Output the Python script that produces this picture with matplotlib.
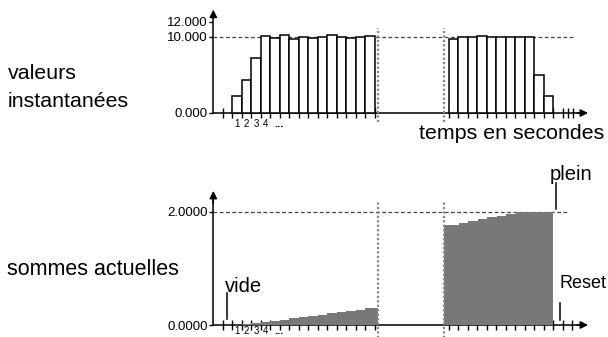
import matplotlib
matplotlib.use("Agg")
import matplotlib.pyplot as plt

plt.rcParams['font.family'] = ['Liberation Sans', 'DejaVu Sans']

# ---- data ----
seg1_edges = [0, 1, 2, 3, 4, 5, 6, 7, 8, 9, 10, 11, 12, 13, 14, 15]
seg1_values = [2.2, 4.3, 7.2, 10.1, 9.9, 10.2, 9.7, 10.0, 9.9, 10.0, 10.2, 10.0, 9.9, 10.0, 10.1]
seg2_edges = [22.8, 23.8, 24.8, 25.8, 26.8, 27.8, 28.8, 29.8, 30.8, 31.8, 32.8, 33.8]
seg2_values = [9.7, 10.0, 10.0, 10.1, 9.95, 10.05, 10.05, 9.95, 10.05, 5.0, 2.2]

sum1_edges = [0, 1, 2, 3, 4, 5, 6, 7, 8, 9, 10, 11, 12, 13, 14, 15.37]
sum1_values = [0.005, 0.014, 0.030, 0.053, 0.074, 0.097, 0.118, 0.141, 0.162,
               0.185, 0.207, 0.229, 0.251, 0.273, 0.296]
sum2_edges = [22.3, 23.85, 24.85, 25.85, 26.85, 27.85, 28.85, 29.85, 30.85, 31.85, 32.85, 33.8]
sum2_values = [1.77, 1.81, 1.84, 1.87, 1.90, 1.93, 1.96, 1.99, 2.00, 2.00, 2.00]

bar_tick_labels = ["1", "2", "3", "4", "..."]
top_yticks = [0, 10, 12]
top_yticklabels = ["0.000", "10.000", "12.000"]
bot_yticks = [0, 2]
bot_yticklabels = ["0.0000", "2.0000"]

top_xticks = [-1] + seg1_edges + seg2_edges + [34.8, 35.35, 35.9]
bot_xticks = [-1] + seg1_edges + seg2_edges + [34.8, 35.8]

W, H = 608, 337
fig = plt.figure(figsize=(W / 100, H / 100), dpi=100)

# pixel mapping: x_px = 232.3 + 9.5*x
X0, XS = 232.3, 9.5
xlim = (-3, 38)
ax_left = (X0 + xlim[0] * XS) / W
ax_w = (xlim[1] - xlim[0]) * XS / W

# top axes: y_px_from_top = 113 - 7.6*y
T0, TS = 113.0, 7.6
tylim = (-2, 14.5)
t_bottom = (H - (T0 - tylim[0] * TS)) / H
t_h = (tylim[1] - tylim[0]) * TS / H
ax1 = fig.add_axes([ax_left, t_bottom, ax_w, t_h])

# bottom axes: y_px_from_top = 325 - 56.6*v
B0, BS = 325.0, 56.6
bylim = (-0.2, 2.6)
b_bottom = (H - (B0 - bylim[0] * BS)) / H
b_h = (bylim[1] - bylim[0]) * BS / H
ax2 = fig.add_axes([ax_left, b_bottom, ax_w, b_h])

for ax, yl in ((ax1, tylim), (ax2, bylim)):
    ax.set_xlim(*xlim)
    ax.set_ylim(*yl)
    ax.patch.set_alpha(0)
    for s in ('top', 'right'):
        ax.spines[s].set_visible(False)
    ax.spines['left'].set_position(('data', -2))
    ax.spines['bottom'].set_position(('data', 0))
    ax.spines['left'].set_linewidth(1.1)
    ax.spines['bottom'].set_linewidth(1.1)

# ---- top panel ----
ax1.bar([e + 0.5 for e in seg1_edges[:-1]], seg1_values, width=1.0,
        facecolor='white', edgecolor='black', linewidth=1.1, zorder=3)
ax1.bar([e + 0.5 for e in seg2_edges[:-1]], seg2_values, width=1.0,
        facecolor='white', edgecolor='black', linewidth=1.1, zorder=3)
ax1.plot([-2, 36.0], [10, 10], linestyle=(0, (3, 2)), color='#444444', lw=0.9, zorder=2)
for xv in (15.37, 22.3):
    ax1.plot([xv, xv], [-1.2, 11.2], linestyle=(0, (1, 1)), color='#888888', lw=1.6,
             zorder=4, clip_on=False)
ax1.spines['left'].set_bounds(0, 12.8)
ax1.spines['bottom'].set_bounds(-2, 36.5)
ax1.annotate('', xy=(-2, 13.6), xytext=(-2, 12.5),
             arrowprops=dict(arrowstyle='-|>', color='k', lw=1.1, mutation_scale=11,
                             shrinkA=0, shrinkB=0))
ax1.annotate('', xy=(37.45, 0), xytext=(36.3, 0),
             arrowprops=dict(arrowstyle='-|>', color='k', lw=1.1, mutation_scale=11,
                             shrinkA=0, shrinkB=0))
ax1.set_yticks(top_yticks)
ax1.set_yticklabels(top_yticklabels, fontsize=9.5)
ax1.set_xticks(top_xticks)
ax1.set_xticklabels([])
ax1.tick_params(axis='x', direction='inout', length=7, width=1.0)
ax1.tick_params(axis='y', direction='out', length=3, width=1.0, pad=1)
for i, lab in enumerate(bar_tick_labels):
    dots = lab == "..."
    ax1.text(seg1_edges[i] + 0.5 + (0.4 if dots else 0), -1.5, lab,
             ha='center', va='center', fontsize=8 if dots else 7,
             fontweight='bold' if dots else 'normal')

# ---- bottom panel ----
ax2.stairs(sum1_values, sum1_edges, fill=True, color='#787878', zorder=3)
ax2.stairs(sum2_values, sum2_edges, fill=True, color='#787878', zorder=3)
ax2.plot([-2, 35.3], [2, 2], linestyle=(0, (3, 2)), color='#444444', lw=0.9, zorder=2)
for xv in (15.37, 22.3):
    ax2.plot([xv, xv], [-0.25, 2.17], linestyle=(0, (1, 1)), color='#888888', lw=1.6,
             zorder=4, clip_on=False)
ax2.spines['left'].set_bounds(0, 2.2)
ax2.spines['bottom'].set_bounds(-2, 36.5)
ax2.annotate('', xy=(-2, 2.37), xytext=(-2, 2.15),
             arrowprops=dict(arrowstyle='-|>', color='k', lw=1.1, mutation_scale=11,
                             shrinkA=0, shrinkB=0))
ax2.annotate('', xy=(37.45, 0), xytext=(36.3, 0),
             arrowprops=dict(arrowstyle='-|>', color='k', lw=1.1, mutation_scale=11,
                             shrinkA=0, shrinkB=0))
ax2.set_yticks(bot_yticks)
ax2.set_yticklabels(bot_yticklabels, fontsize=9.5)
ax2.set_xticks(bot_xticks)
ax2.set_xticklabels([])
ax2.tick_params(axis='x', direction='inout', length=7, width=1.0)
ax2.tick_params(axis='y', direction='out', length=3, width=1.0, pad=1)
for i, lab in enumerate(bar_tick_labels):
    dots = lab == "..."
    ax2.text(seg1_edges[i] + 0.5 + (0.4 if dots else 0), -0.105, lab,
             ha='center', va='center', fontsize=8 if dots else 7,
             fontweight='bold' if dots else 'normal', clip_on=False)

# marker lines and their labels
ax2.plot([-0.59, -0.59], [0.1, 0.565], color='k', lw=1.1)
ax2.text(-0.75, 0.59, "vide", ha='left', va='baseline', fontsize=14.5)
ax2.plot([34.04, 34.04], [2.05, 2.51], color='k', lw=1.1, clip_on=False)
ax2.text(33.4, 2.56, "plein", ha='left', va='baseline', fontsize=14.5, clip_on=False)
ax2.plot([34.5, 34.5], [0.09, 0.39], color='k', lw=1.1)
ax2.text(34.4, 0.65, "Reset", ha='left', va='baseline', fontsize=13, clip_on=False)

# side labels
def ftext(x, y, s, **kw):
    fig.text(x / W, 1 - y / H, s, va='baseline', **kw)

ftext(8, 79, "valeurs", fontsize=15.4)
ftext(8, 107, "instantanées", fontsize=15.4)
ftext(7, 275, "sommes actuelles", fontsize=15.5)
ftext(419, 139, "temps en secondes", fontsize=15.4)

fig.savefig("out.png", dpi=100)
